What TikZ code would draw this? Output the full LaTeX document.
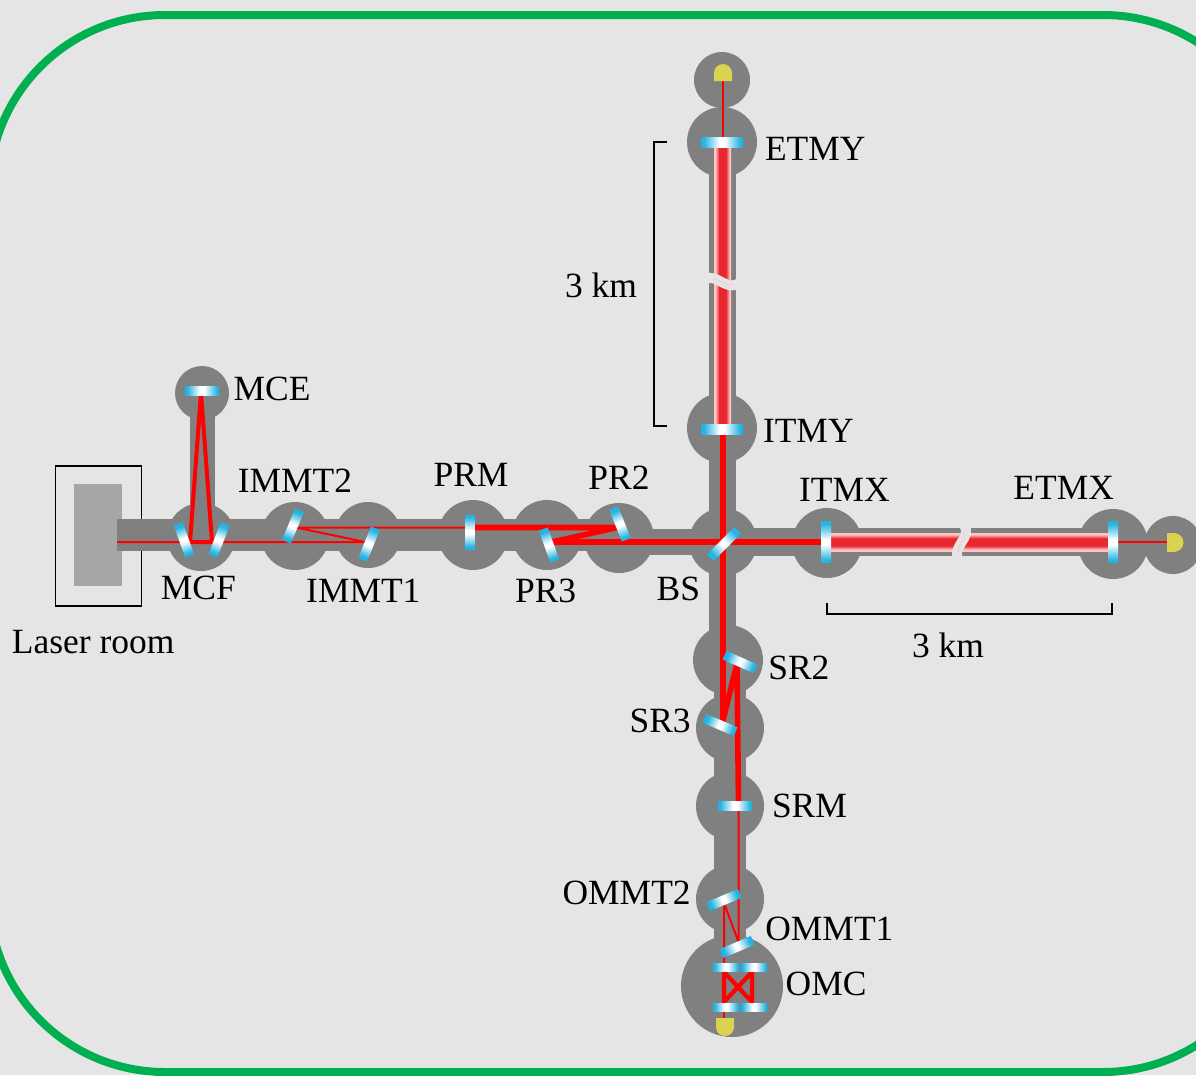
\documentclass[tikz,border=0pt]{standalone}
\usepackage{fontspec}
\setmainfont{Liberation Serif}
\usetikzlibrary{positioning}
\definecolor{hallgray}{HTML}{E5E5E5}
\definecolor{framegreen}{HTML}{00B050}
\definecolor{chambergray}{HTML}{808080}
\definecolor{roomgray}{HTML}{A6A6A6}
\definecolor{mirrorblue}{HTML}{25B4E2}
\definecolor{diodeyellow}{HTML}{DAD34F}
\definecolor{armpale}{HTML}{FFC4C4}
\definecolor{armred}{HTML}{E8262E}
\pgfdeclarehorizontalshading{armbeam}{100bp}{color(0bp)=(armpale); color(25bp)=(armpale); color(29bp)=(armpale); color(40bp)=(armred); color(60bp)=(armred); color(71bp)=(armpale); color(75bp)=(armpale); color(100bp)=(armpale)}
\pgfdeclarehorizontalshading{mirrorglass}{100bp}{color(0bp)=(mirrorblue); color(25bp)=(mirrorblue); color(28bp)=(mirrorblue); color(47bp)=(white); color(53bp)=(white); color(72bp)=(mirrorblue); color(75bp)=(mirrorblue); color(100bp)=(mirrorblue)}
\begin{document}
\begin{tikzpicture}[x=0.75pt,y=-0.75pt,font=\fontsize{26.6}{30}\selectfont]
  \tikzstyle{chamber}=[circle,fill=chambergray,inner sep=0pt,outer sep=0pt,minimum size=#1*1.5pt]
  \tikzstyle{pipe}=[chambergray,line width=#1*0.75pt]
  \tikzstyle{mirror}[0]=[rectangle,inner sep=0pt,outer sep=0pt,minimum width=34*0.75pt,minimum height=9.5*0.75pt,shading=mirrorglass,rotate=#1,shading angle=#1]
  \tikzstyle{bigmirror}[0]=[mirror=#1,minimum width=41*0.75pt,minimum height=10*0.75pt]
  \tikzstyle{omcmirror}[0]=[mirror=#1,minimum width=26*0.75pt,minimum height=8*0.75pt]
  \tikzstyle{thinbeam}=[red,line width=1.5pt]
  \tikzstyle{thickbeam}=[red,line width=4.2pt,line join=round]
  \tikzstyle{lbl}=[inner sep=0pt,outer sep=0pt]
  \tikzstyle{bracket}=[black,line width=1.1pt]
  \useasboundingbox (0,0) rectangle (1196,1075);
  \fill[hallgray] (0,0) rectangle (1196,1075);
  \draw[framegreen,line width=6pt,rounded corners=132pt] (-11,15) rectangle (1279,1072);
  % laser room
  \node[draw,thick,minimum width=65pt,minimum height=105pt,inner sep=0pt] (room) at (98.5,536) {};
  \node[fill=roomgray,minimum width=36pt,minimum height=76.5pt,inner sep=0pt] (laser) at (98,535) {};
  % vacuum chambers
  \node[chamber=27] (mce) at (202,393) {};
  \node[chamber=34] (mcf) at (201,537) {};
  \node[chamber=34] (immt2) at (295,536) {};
  \node[chamber=33] (immt1) at (368,535) {};
  \node[chamber=35] (prm) at (473,535) {};
  \node[chamber=35] (pr3) at (547,535) {};
  \node[chamber=35] (pr2) at (619,538) {};
  \node[chamber=34] (bs) at (723,542) {};
  \node[chamber=35] (itmx) at (827,543) {};
  \node[chamber=35] (etmx) at (1113,544) {};
  \node[chamber=29] (pdx) at (1173,545) {};
  \node[chamber=35] (itmy) at (722,428) {};
  \node[chamber=35] (etmy) at (722,142) {};
  \node[chamber=28] (pdy) at (722,80) {};
  \node[chamber=35] (sr2) at (728,660) {};
  \node[chamber=34] (sr3) at (730,728) {};
  \node[chamber=34] (srm) at (730,806) {};
  \node[chamber=34] (ommt2) at (730,899) {};
  \node[chamber=51] (omc) at (732,986) {};
  \coordinate (inj) at (117,535);
  % pipes
  \draw[pipe=32] (inj) -- (pr2.center |- inj);
  \draw[pipe=26] (pr2.center |- bs.center) -- (bs.center);
  \draw[pipe=28] (bs.center) -- (etmx.center |- bs.center);
  \draw[pipe=25] (mce.center) -- (mce.center |- mcf.center);
  \draw[pipe=27] (etmy.center) -- (etmy.center |- sr2.center);
  \draw[pipe=32] (srm.center |- sr2.center) -- (srm.center |- omc.center);
  % arms
  \shade[shading=armbeam,shading angle=90] (830,533) rectangle (1110,551);
  \shade[shading=armbeam] (714,145) rectangle (731,426);
  % beam points
  \coordinate (a1) at (117,542);
  \coordinate (a2) at (190,542);
  \coordinate (a3) at (212,542);
  \coordinate (a4) at (201,393);
  \coordinate (a5) at (365,542);
  \coordinate (a6) at (296,527.5);
  \coordinate (a7) at (474,527.5);
  \coordinate (a8) at (617,527.5);
  \coordinate (a9) at (552,542);
  \coordinate (a10) at (827,542);
  \coordinate (b1) at (723,428);
  \coordinate (b2) at (723,720);
  \coordinate (b3) at (737,664);
  \coordinate (b4) at (738.5,806);
  \coordinate (b5) at (738.5,942);
  \coordinate (b6) at (724,903);
  \coordinate (c1) at (724,972);
  \coordinate (c2) at (752,972);
  \coordinate (c3) at (724,1002);
  \coordinate (c4) at (752,1002);
  \coordinate (d1) at (724,1020);
  \coordinate (d2) at (723,81);
  \coordinate (d3) at (723,140);
  \coordinate (d4) at (1113,542);
  \coordinate (d5) at (1168,542);
  % beams
  \draw[thinbeam] (a1) -- (a5) -- (a6) -- (a7);
  \draw[red,line width=3pt,line join=round] (a2) -- (a4) -- (a3) -- cycle;
  \draw[thickbeam] (a7) -- (a8) -- (a9) -- (a10);
  \draw[thickbeam] (b1) -- (b2) -- (b3) -- (b4);
  \draw[thinbeam] (b4) -- (b5) -- (b6) -- (c1);
  \draw[red,line width=3.2pt,line join=round] (c1) -- (c3) -- (c2) -- (c4) -- (c1) -- cycle;
  \draw[thinbeam] (c3) -- (d1);
  \draw[thinbeam] (d2) -- (d3);
  \draw[thinbeam] (d4) -- (d5);
  % arm breaks
  \draw[hallgray,line width=7.5pt] (963,524) .. controls (975,537) and (948,548) .. (960,561);
  \draw[armpale,line width=0.6pt] (963,532) .. controls (970,540) and (953,546) .. (960,553);
  \draw[hallgray,line width=7.5pt] (706,279) .. controls (716,273) and (727,292) .. (739,283);
  \draw[armpale,line width=0.6pt] (713,280) .. controls (718,277) and (727,288) .. (732,284);
  % mirrors
  \node[mirror] (mcem) at (202,391) {};
  \node[mirror=-70] (mcfl) at (184,540) {};
  \node[mirror=69] (mcfr) at (219,540) {};
  \node[mirror=67] (immt2m) at (293,526) {};
  \node[mirror=68] (immt1m) at (369,544) {};
  \node[mirror=90] (prmm) at (470,532) {};
  \node[mirror=-70] (pr3m) at (549,545) {};
  \node[mirror=-68] (pr2m) at (620,524) {};
  \node[mirror=45,minimum width=39*0.75pt] (bsm) at (724,544) {};
  \node[bigmirror=90] (itmxm) at (826,542) {};
  \node[bigmirror=90] (etmxm) at (1113,542) {};
  \node[bigmirror] (itmym) at (722,429) {};
  \node[bigmirror] (etmym) at (722,142) {};
  \node[mirror=-24] (sr2m) at (740,662) {};
  \node[mirror=-23] (sr3m) at (720,725) {};
  \node[mirror] (srmm) at (735,806) {};
  \node[mirror=23] (ommt2m) at (724,900) {};
  \node[mirror=23] (ommt1m) at (737,947) {};
  \node[omcmirror] (omcm1) at (726,967) {};
  \node[omcmirror] (omcm2) at (754,967) {};
  \node[omcmirror] (omcm3) at (726,1007) {};
  \node[omcmirror] (omcm4) at (754,1007) {};
  % photodiodes
  \fill[diodeyellow] (714,81) -- (714,73) arc[start angle=180,end angle=0,radius=6.75pt] -- (732,81) -- cycle;
  \fill[diodeyellow] (1167,533) -- (1174,533) arc[start angle=90,end angle=-90,radius=7.1pt] -- (1167,552) -- cycle;
  \fill[diodeyellow] (716,1018) -- (716,1027) arc[start angle=180,end angle=360,radius=6.75pt] -- (734,1018) -- cycle;
  % brackets
  \coordinate (xl) at (827,614);
  \coordinate (xr) at (1112,614);
  \coordinate (yt) at (654,142);
  \coordinate (yb) at (654,426);
  \draw[bracket] (xl) ++(0,-11) -- (xl) -- (xr) -- ++(0,-11);
  \draw[bracket] (yt) ++(13,0) -- (yt) -- (yb) -- ++(13,0);
  % labels
  \node[lbl,right=6pt of etmy,yshift=-5pt] (etmytxt) {ETMY};
  \node[lbl,right=4.5pt of itmy,yshift=-2pt] (itmytxt) {ITMY};
  \node[lbl,above=5pt of itmx,xshift=13pt] (itmxtxt) {ITMX};
  \node[lbl,above=7pt of etmx,xshift=-37pt] (etmxtxt) {ETMX};
  \node[lbl,right=3.5pt of mce,yshift=3pt] (mcetxt) {MCE};
  \node[lbl,above=7pt of immt2] (immt2txt) {IMMT2};
  \node[lbl,below=3.5pt of mcf,xshift=-2pt] (mcftxt) {MCF};
  \node[lbl,below=8pt of immt1,xshift=-3.5pt] (immt1txt) {IMMT1};
  \node[lbl,above=10pt of prm,xshift=-1.5pt] (prmtxt) {PRM};
  \node[lbl,above=10.5pt of pr2] (pr2txt) {PR2};
  \node[lbl,below=7pt of pr3,xshift=-1pt] (pr3txt) {PR3};
  \node[lbl,below=0.5pt of bs,xshift=-33.5pt] (bstxt) {BS};
  \node[lbl,right=4pt of sr2,yshift=-6pt] (sr2txt) {SR2};
  \node[lbl,left=4pt of sr3,yshift=5pt] (sr3txt) {SR3};
  \node[lbl,right=6pt of srm] (srmtxt) {SRM};
  \node[lbl,left=4pt of ommt2,yshift=4.5pt] (ommt2txt) {OMMT2};
  \node[lbl,right=1pt of ommt2,yshift=-22.5pt] (ommt1txt) {OMMT1};
  \node[lbl,right=2pt of omc,yshift=1.5pt] (omctxt) {OMC};
  \node[lbl,below=18pt of room,xshift=-4pt] (roomtxt) {Laser room};
  \node[lbl] (kmx) at (948,645) {3 km};
  \node[lbl] (kmy) at (601,285) {3 km};
\end{tikzpicture}
\end{document}
